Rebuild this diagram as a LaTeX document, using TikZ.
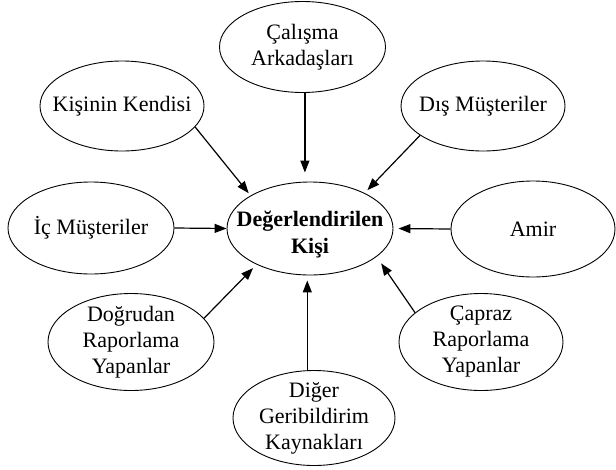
\documentclass[tikz,border=0pt]{standalone}
\usepackage{fontspec}
\setmainfont{Liberation Serif}
\usetikzlibrary{shapes.geometric,arrows.meta}
\begin{document}
\begin{tikzpicture}[x=1pt,y=-1pt,
  ell/.style={ellipse,draw,line width=0.9pt,inner sep=0pt},
  lbl/.style={font=\fontsize{22}{26}\selectfont,align=center},
  bold/.style={font=\bfseries\fontsize{22}{27}\selectfont,align=center},
  arr/.style={line width=1.2pt,-{Triangle[length=12pt,width=9pt]}}]
\useasboundingbox (0,0) rectangle (616,469);

% central ellipse
\node[ell,minimum width=166pt,minimum height=93pt,
      label={[bold,yshift=-6pt]center:Değerlendirilen\\Kişi}] (deg) at (310,228.5) {};

% surrounding sources of feedback
\node[ell,minimum width=166pt,minimum height=91pt,
      label={[lbl]center:Çalışma\\Arkadaşları}] (calis) at (302.5,47) {};
\node[ell,minimum width=164pt,minimum height=90pt,
      label={[lbl]center:Kişinin Kendisi}] (kendi) at (122,106) {};
\node[ell,minimum width=164pt,minimum height=90pt,
      label={[lbl]center:Dış Müşteriler}] (dis) at (483,106) {};
\node[ell,minimum width=166pt,minimum height=92pt,
      label={[lbl]center:İç Müşteriler}] (ic) at (91,228) {};
\node[ell,minimum width=164pt,minimum height=96pt,
      label={[lbl]center:Amir}] (amir) at (533,229) {};
\node[ell,minimum width=166pt,minimum height=97pt,
      label={[lbl]center:Doğrudan\\Raporlama\\Yapanlar}] (dog) at (131,342) {};
\node[ell,minimum width=164pt,minimum height=97pt,
      label={[lbl]center:Çapraz\\Raporlama\\Yapanlar}] (cap) at (481,342) {};
\node[ell,minimum width=162pt,minimum height=95pt,
      label={[lbl]center:Diğer\\Geribildirim\\Kaynakları}] (dig) at (314,418) {};

% arrows into the central ellipse
\draw[arr,shorten >=9pt] (calis.-87) -- (calis.-87 |- deg.north);
\draw[arr,shorten >=3pt] (kendi.-16) -- (deg.151);
\draw[arr,shorten >=4pt] (dis.205.5) -- (deg.33.7);
\draw[arr] (ic.east) -- (deg.west);
\draw[arr,shorten >=5pt] (amir.west) -- (deg.east);
\draw[arr,shorten >=5pt] (dog.18.7) -- (deg.214.4);
\draw[arr,shorten >=8pt] (cap.156.3) -- (deg.-23.7);
\draw[arr,shorten >=5pt] (dig.98) -- (dig.98 |- deg.south);
\end{tikzpicture}
\end{document}
